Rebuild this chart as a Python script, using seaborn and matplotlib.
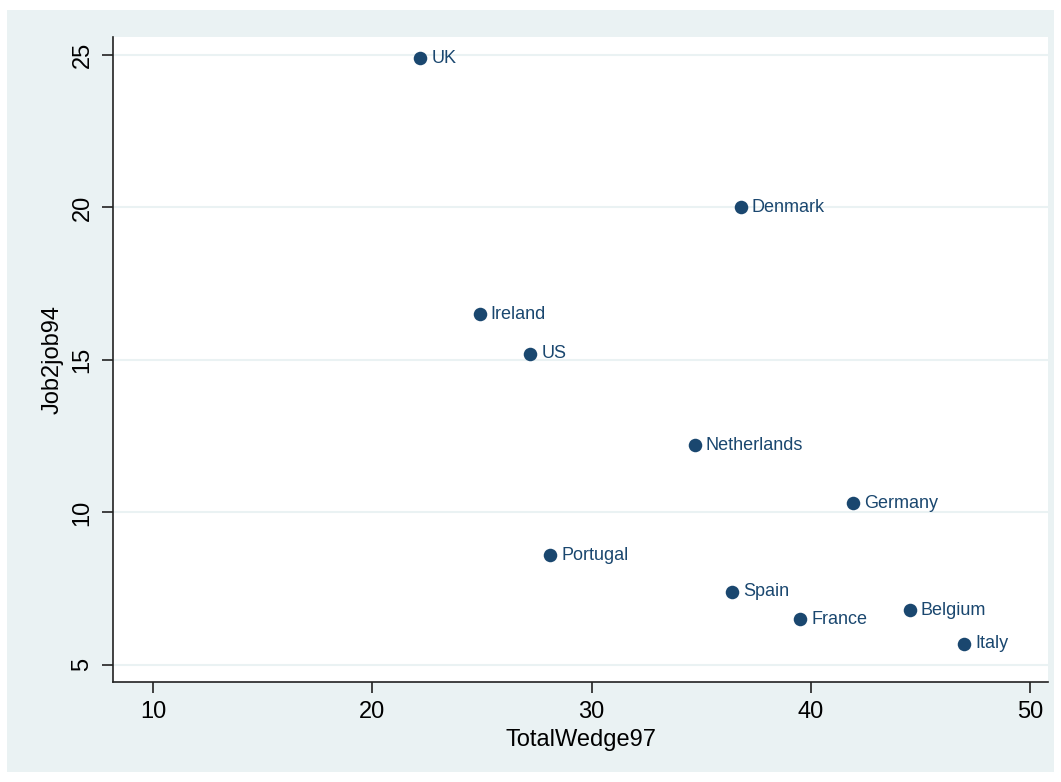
import matplotlib
matplotlib.use("Agg")
import matplotlib.pyplot as plt
import seaborn as sns
import pandas as pd
from matplotlib.patches import Rectangle

countries = ["UK", "Denmark", "Ireland", "US", "Netherlands", "Germany",
             "Portugal", "Spain", "France", "Belgium", "Italy"]
total_wedge97 = [22.2, 36.8, 24.9, 27.2, 34.7, 41.9, 28.1, 36.4, 39.5, 44.5, 47.0]
job2job94 = [24.9, 20.0, 16.5, 15.2, 12.2, 10.3, 8.6, 7.4, 6.5, 6.8, 5.7]
x_ticks = [10, 20, 30, 40, 50]
y_ticks = [5, 10, 15, 20, 25]

df = pd.DataFrame({"country": countries, "TotalWedge97": total_wedge97,
                   "Job2job94": job2job94})

sns.set_theme(style="white")
plt.rcParams['font.family'] = ['Liberation Sans', 'DejaVu Sans']

navy = "#1a476f"
bg = "#eaf2f3"
W, H = 1061, 782
fig = plt.figure(figsize=(W / 100, H / 100), dpi=100)
fig.patch.set_facecolor("white")
fig.patches.append(Rectangle((7 / W, 1 - 772 / H), (1054 - 7) / W, (772 - 10) / H,
                             transform=fig.transFigure, facecolor=bg,
                             edgecolor="none", zorder=-10))
ax = fig.add_axes([113 / W, 1 - 682 / H, (1048 - 113) / W, (682 - 37) / H])
ax.set_zorder(1)
ax.set_facecolor("white")

sns.scatterplot(data=df, x="TotalWedge97", y="Job2job94", ax=ax, color=navy,
                s=95, edgecolor=navy, linewidth=0, zorder=3)
for c, xv, yv in zip(countries, total_wedge97, job2job94):
    ax.annotate(c, (xv, yv), xytext=(8, 0), textcoords="offset points",
                va="center", ha="left", fontsize=13, color=navy)

ax.set_xlim(8.18, 50.81)
ax.set_ylim(4.44, 25.59)
ax.set_xticks(x_ticks)
ax.set_yticks(y_ticks)
ax.set_yticklabels([str(v) for v in y_ticks], rotation=90, va="center")
ax.grid(axis="y", color=bg, linewidth=1.5)
ax.grid(axis="x", visible=False)
for s in ["top", "right"]:
    ax.spines[s].set_visible(False)
for s in ["left", "bottom"]:
    ax.spines[s].set_color("#222222")
    ax.spines[s].set_linewidth(1.2)
ax.tick_params(axis="both", which="major", length=8, width=1.2, color="#222222",
               labelsize=17, labelcolor="black", pad=6, bottom=True, left=True)
ax.set_xlabel("TotalWedge97", fontsize=17, color="black", labelpad=4)
ax.set_ylabel("Job2job94", fontsize=17, color="black", labelpad=6)

fig.savefig("out.png", dpi=100)
